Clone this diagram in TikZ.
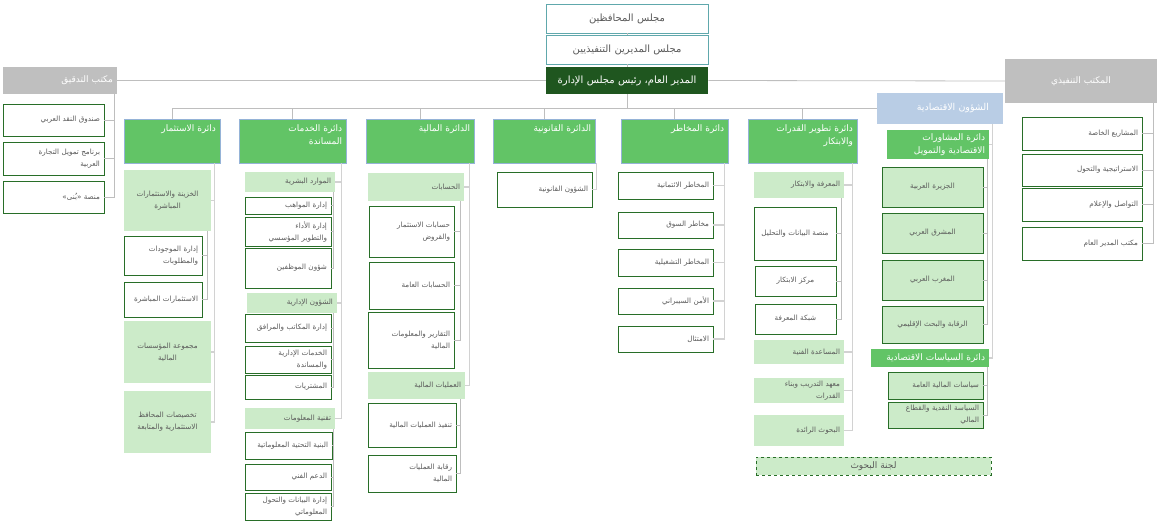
\documentclass[tikz,border=0pt]{standalone}
\usepackage{fontspec}
\newfontfamily\arabicfont[Script=Arabic]{DejaVu Sans}
\TeXXeTstate=1
\newcommand\artxt[1]{{\arabicfont\beginR #1\endR}}
\definecolor{deptgreen}{RGB}{98,196,102}
\definecolor{deptblue}{RGB}{149,179,215}
\definecolor{palegreen}{RGB}{204,235,201}
\definecolor{boxgreen}{RGB}{40,110,40}
\definecolor{dggreen}{RGB}{31,86,31}
\definecolor{officegray}{RGB}{191,191,191}
\definecolor{econblue}{RGB}{185,205,229}
\definecolor{boardteal}{RGB}{96,168,172}
\definecolor{txtgray}{RGB}{89,89,89}
\definecolor{linegray}{RGB}{190,190,190}
\definecolor{trunkgray}{RGB}{210,210,210}
\tikzset{
  conn/.style={draw=linegray, line width=0.8pt},
  trunk/.style={draw=trunkgray, line width=1.4pt},
  base/.style={rectangle, inner xsep=4pt, inner ysep=2pt, align=right,
    font=\fontsize{7.2}{12}\selectfont, text=txtgray},
  unit/.style={base, draw=boxgreen, line width=0.8pt, fill=white},
  sec/.style={base, fill=palegreen},
  secb/.style={base, fill=palegreen, draw=boxgreen, line width=0.8pt},
  dept/.style={base, fill=deptgreen, draw=deptblue, line width=0.7pt, text=white,
    font=\fontsize{9}{13}\selectfont, inner ysep=3pt, text height=9pt, text depth=29pt},
  deptb/.style={base, fill=deptgreen, text=white, font=\fontsize{9}{13}\selectfont},
  office/.style={base, fill=officegray, text=white, font=\fontsize{9}{11}\selectfont},
  board/.style={base, draw=boardteal, line width=0.7pt, fill=white, align=center,
    font=\fontsize{10}{12}\selectfont},
}
\begin{document}
\begin{tikzpicture}[x=1pt, y=-1pt]
\useasboundingbox (0,0) rectangle (1160,530);
% board and director general
\node[board, text width=154pt, minimum height=29pt] (gov) at (627,18.5) {\artxt{مجلس المحافظين}};
\node[board, text width=154pt, minimum height=29pt] (exd) at (627,49.5) {\artxt{مجلس المديرين التنفيذيين}};
\node[board, fill=dggreen, draw=none, text=white, text width=154pt, minimum height=27pt] (dg) at (627,80.5) {\artxt{المدير العام، رئيس مجلس الإدارة}};
\node[office, text width=106pt, minimum height=27pt] (audit) at (60,80.5) {\artxt{مكتب التدقيق}};
\node[office, align=center, text width=144pt, minimum height=44pt] (exec) at (1081,81) {\artxt{المكتب التنفيذي}};
\node[base, fill=econblue, text=white, font=\fontsize{9.5}{11}\selectfont, inner xsep=14pt, text width=98pt, minimum height=31pt] (econ) at (940,108.5) {\artxt{الشؤون الاقتصادية}};

% audit office
\node[unit, text width=93pt, minimum height=32pt] (imf) at (53.5,120) {\artxt{صندوق النقد العربي}};
\node[unit, text width=93pt, minimum height=33pt] (ttf) at (53.5,158.5) {\artxt{برنامج تمويل التجارة}\\\artxt{العربية}};
\node[unit, text width=93pt, minimum height=32pt] (buna) at (53.5,197) {\artxt{منصة «بُنى»}};

% executive office
\node[unit, text width=112pt, minimum height=33pt] (spec) at (1082,133.5) {\artxt{المشاريع الخاصة}};
\node[unit, text width=112pt, minimum height=32pt] (strat) at (1082,170) {\artxt{الاستراتيجية والتحول}};
\node[unit, text width=112pt, minimum height=33pt] (comm) at (1082,204.5) {\artxt{التواصل والإعلام}};
\node[unit, text width=112pt, minimum height=33pt] (dgo) at (1082,243.5) {\artxt{مكتب المدير العام}};

% departments
\node[dept, text width=88pt] (inv) at (172,141) {\artxt{دائرة الاستثمار}};
\node[dept, text width=99pt] (sup) at (292.5,141) {\artxt{دائرة الخدمات}\\\artxt{المساندة}};
\node[dept, text width=100pt] (fin) at (420,141) {\artxt{الدائرة المالية}};
\node[dept, text width=94pt] (leg) at (544,141) {\artxt{الدائرة القانونية}};
\node[dept, text width=99pt] (risk) at (674.5,141) {\artxt{دائرة المخاطر}};
\node[dept, text width=101pt] (cap) at (802.5,141) {\artxt{دائرة تطوير القدرات}\\\artxt{والابتكار}};

% investment
\node[sec, align=center, text width=79pt, minimum height=61pt] (tre) at (167.5,200.5) {\artxt{الخزينة والاستثمارات}\\\artxt{المباشرة}};
\node[unit, text width=70pt, minimum height=39pt] (alm) at (163,255.5) {\artxt{إدارة الموجودات}\\\artxt{والمطلوبات}};
\node[unit, text width=70pt, minimum height=35pt] (dinv) at (163,299.5) {\artxt{الاستثمارات المباشرة}};
\node[sec, align=center, text width=79pt, minimum height=62pt] (fig) at (167.5,352) {\artxt{مجموعة المؤسسات}\\\artxt{المالية}};
\node[sec, align=center, text width=79pt, minimum height=62pt] (alloc) at (167.5,422) {\artxt{تخصيصات المحافظ}\\\artxt{الاستثمارية والمتابعة}};

% support services
\node[sec, text width=82pt, minimum height=20pt] (hr) at (290,182) {\artxt{الموارد البشرية}};
\node[unit, text width=78pt, minimum height=17pt] (tal) at (288,205.5) {\artxt{إدارة المواهب}};
\node[unit, text width=78pt, minimum height=29pt] (perf) at (288,231.5) {\artxt{إدارة الأداء}\\\artxt{والتطوير المؤسسي}};
\node[unit, text width=78pt, minimum height=40pt] (staff) at (288,268) {\artxt{شؤون الموظفين}};
\node[sec, text width=82pt, minimum height=20pt] (adm) at (292,303) {\artxt{الشؤون الإدارية}};
\node[unit, text width=78pt, minimum height=28pt] (ofc) at (288,328) {\artxt{إدارة المكاتب والمرافق}};
\node[unit, text width=78pt, minimum height=27pt] (asvc) at (288,359.5) {\artxt{الخدمات الإدارية}\\\artxt{والمساندة}};
\node[unit, text width=78pt, minimum height=24pt] (proc) at (288,387) {\artxt{المشتريات}};
\node[sec, text width=82pt, minimum height=21pt] (it) at (290,418.5) {\artxt{تقنية المعلومات}};
\node[unit, text width=79pt, minimum height=27pt] (infra) at (288.5,445.5) {\artxt{البنية التحتية المعلوماتية}};
\node[unit, text width=78pt, minimum height=26pt] (tech) at (288,477) {\artxt{الدعم الفني}};
\node[unit, text width=78pt, minimum height=27pt] (data) at (288,506.5) {\artxt{إدارة البيانات والتحول}\\\artxt{المعلوماتي}};

% finance
\node[sec, text width=88pt, minimum height=28pt] (acc) at (416,187) {\artxt{الحسابات}};
\node[unit, text width=77pt, minimum height=51pt] (ial) at (411.5,231.5) {\artxt{حسابات الاستثمار}\\\artxt{والقروض}};
\node[unit, text width=77pt, minimum height=47pt] (gacc) at (411.5,285.5) {\artxt{الحسابات العامة}};
\node[unit, text width=78pt, minimum height=56pt] (rep) at (411,340) {\artxt{التقارير والمعلومات}\\\artxt{المالية}};
\node[sec, text width=89pt, minimum height=27pt] (ops) at (416.5,385.5) {\artxt{العمليات المالية}};
\node[unit, text width=80pt, minimum height=44pt] (exe) at (412,425) {\artxt{تنفيذ العمليات المالية}};
\node[unit, text width=80pt, minimum height=37pt] (ctl) at (412,473.5) {\artxt{رقابة العمليات}\\\artxt{المالية}};

% legal
\node[unit, text width=87pt, minimum height=35pt] (lega) at (544.5,189.5) {\artxt{الشؤون القانونية}};

% risk
\node[unit, text width=87pt, minimum height=27pt] (cr) at (665.5,185.5) {\artxt{المخاطر الائتمانية}};
\node[unit, text width=87pt, minimum height=26pt] (mr) at (665.5,225) {\artxt{مخاطر السوق}};
\node[unit, text width=87pt, minimum height=27pt] (opr) at (665.5,262.5) {\artxt{المخاطر التشغيلية}};
\node[unit, text width=87pt, minimum height=26pt] (cyb) at (665.5,301) {\artxt{الأمن السيبراني}};
\node[unit, text width=87pt, minimum height=26pt] (comp) at (665.5,339) {\artxt{الامتثال}};

% capacity development
\node[sec, text width=82pt, minimum height=26pt] (kn) at (799,185) {\artxt{المعرفة والابتكار}};
\node[unit, align=center, text width=74pt, minimum height=53pt] (dap) at (795,233.5) {\artxt{منصة البيانات والتحليل}};
\node[unit, align=center, text width=73pt, minimum height=30pt] (inc) at (795.5,281) {\artxt{مركز الابتكار}};
\node[unit, align=center, text width=73pt, minimum height=30pt] (knet) at (795.5,319) {\artxt{شبكة المعرفة}};
\node[sec, text width=82pt, minimum height=24pt] (ta) at (799,352) {\artxt{المساعدة الفنية}};
\node[sec, text width=82pt, minimum height=25pt] (tri) at (799,390.5) {\artxt{معهد التدريب وبناء}\\\artxt{القدرات}};
\node[sec, text width=82pt, minimum height=31pt] (res) at (799,430.5) {\artxt{البحوث الرائدة}};

% economic affairs
\node[deptb, text width=94pt, minimum height=29pt] (adv) at (938,144.5) {\artxt{دائرة المشاورات}\\\artxt{الاقتصادية والتمويل}};
\node[secb, align=center, text width=93pt, minimum height=40pt] (pen) at (932.5,187) {\artxt{الجزيرة العربية}};
\node[secb, align=center, text width=93pt, minimum height=40pt] (msh) at (932.5,233) {\artxt{المشرق العربي}};
\node[secb, align=center, text width=93pt, minimum height=40pt] (mgh) at (932.5,280) {\artxt{المغرب العربي}};
\node[secb, align=center, text width=93pt, minimum height=37pt] (surv) at (932.5,324.5) {\artxt{الرقابة والبحث الإقليمي}};
\node[deptb, text width=110pt, minimum height=18pt] (pol) at (930,358) {\artxt{دائرة السياسات الاقتصادية}};
\node[secb, text width=87pt, minimum height=27pt] (pf) at (935.5,385.5) {\artxt{سياسات المالية العامة}};
\node[secb, text width=87pt, minimum height=26pt] (mon) at (935.5,415) {\artxt{السياسة النقدية والقطاع}\\\artxt{المالي}};
\node[sec, draw=boxgreen, dashed, line width=0.7pt, align=center, font=\fontsize{9}{11}\selectfont, text width=227pt, minimum height=18pt] (rc) at (873.5,466) {\artxt{لجنة البحوث}};

% connectors
\draw[conn] (gov) -- (exd);
\draw[conn] (exd) -- (dg);
\draw[conn] (dg.west) -- (audit.east);
\draw[conn] (dg.east) -- (exec.west);
\draw[conn] (dg.south) |- (econ.west);
\foreach \d in {inv,sup,fin,leg,risk,cap}
  \draw[conn] (dg.south) -- ++(0,14) -| (\d.north);

\coordinate (audbus) at ([xshift=-3]audit.south east);
\foreach \c in {imf,ttf,buna} \draw[conn] (audbus) |- (\c.east);
\coordinate (execbus) at ([xshift=-4]exec.south east);
\foreach \c in {spec,strat,comm,dgo} \draw[conn] (execbus) |- (\c.east);

\coordinate (invbus) at ([xshift=-6]inv.south east);
\foreach \c in {tre,fig,alloc} \draw[trunk] (invbus) |- (\c.east);
\coordinate (trebus) at ([xshift=-4]tre.south east);
\foreach \c in {alm,dinv} \draw[conn] (trebus) |- (\c.east);

\coordinate (supbus) at ([xshift=-5]sup.south east);
\foreach \c in {hr,adm,it} \draw[trunk] (supbus) |- (\c.east);
\coordinate (hrbus) at ([xshift=-2]hr.south east);
\foreach \c in {tal,perf,staff} \draw[conn] (hrbus) |- (\c.east);
\coordinate (admbus) at ([xshift=-4]adm.south east);
\foreach \c in {ofc,asvc,proc} \draw[conn] (admbus) |- (\c.east);
\coordinate (itbus) at ([xshift=-2]it.south east);
\foreach \c in {infra,tech,data} \draw[conn] (itbus) |- (\c.east);

\coordinate (finbus) at ([xshift=-5]fin.south east);
\foreach \c in {acc,ops} \draw[trunk] (finbus) |- (\c.east);
\coordinate (accbus) at ([xshift=-4]acc.south east);
\foreach \c in {ial,gacc,rep} \draw[conn] (accbus) |- (\c.east);
\coordinate (opsbus) at ([xshift=-5]ops.south east);
\foreach \c in {exe,ctl} \draw[conn] (opsbus) |- (\c.east);

\coordinate (legbus) at ([xshift=1]leg.south east);
\draw[trunk] (legbus) |- (lega.east);

\coordinate (riskbus) at ([xshift=-4]risk.south east);
\foreach \c in {cr,mr,opr,cyb,comp} \draw[trunk] (riskbus) |- (\c.east);

\coordinate (capbus) at ([xshift=-5]cap.south east);
\foreach \c in {kn,ta,tri,res} \draw[trunk] (capbus) |- (\c.east);
\coordinate (knbus) at ([xshift=-3]kn.south east);
\foreach \c in {dap,inc,knet} \draw[conn] (knbus) |- (\c.east);

\coordinate (econbus) at ([xshift=-11]econ.south east);
\foreach \c in {adv,pol} \draw[trunk] (econbus) |- (\c.east);
\coordinate (advbus) at ([xshift=-2]adv.south east);
\foreach \c in {pen,msh,mgh,surv} \draw[conn] (advbus) |- (\c.east);
\coordinate (polbus) at ([xshift=-2]pol.south east);
\foreach \c in {pf,mon} \draw[conn] (polbus) |- (\c.east);
\end{tikzpicture}
\end{document}
